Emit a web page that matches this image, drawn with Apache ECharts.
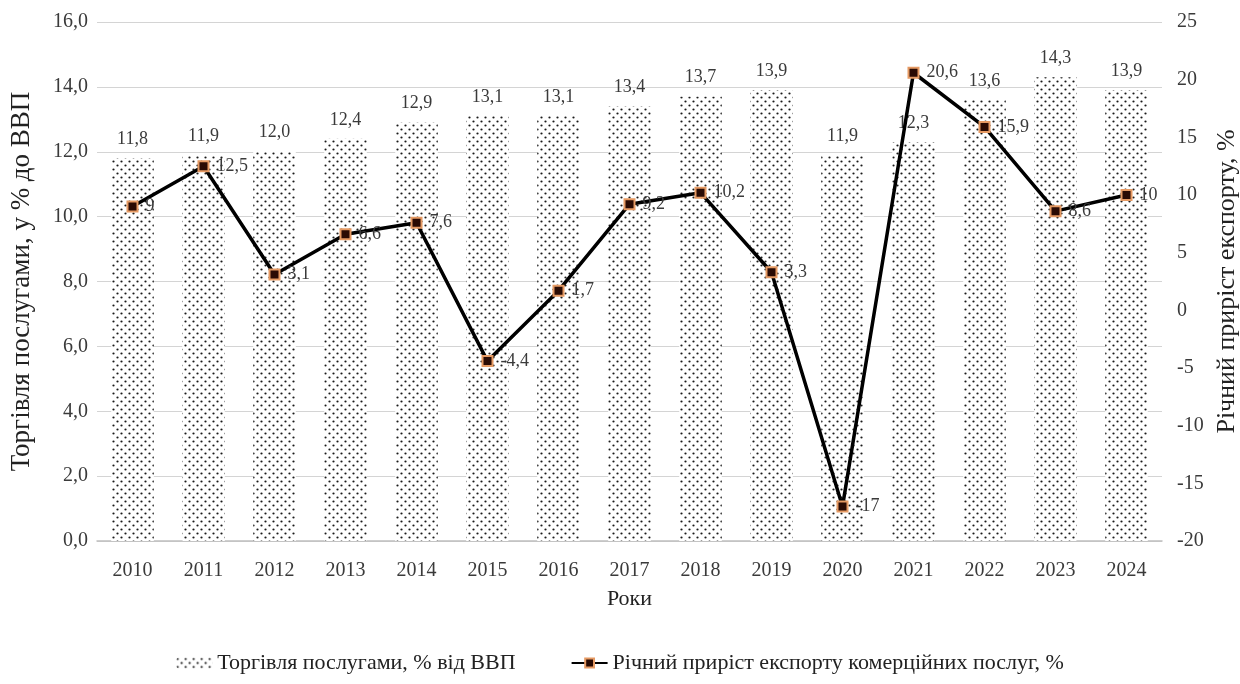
<!DOCTYPE html>
<html>
<head>
<meta charset="utf-8">
<script src="https://cdn.jsdelivr.net/npm/echarts@6/dist/echarts.min.js"></script>
<style>
html,body{margin:0;padding:0;background:#fff;}
#chart{width:1240px;height:684px;}
</style>
</head>
<body>
<div id="chart"></div>
<script>
// Years and values
const years = ['2010','2011','2012','2013','2014','2015','2016','2017','2018','2019','2020','2021','2022','2023','2024'];
const tradeShare = [11.8, 11.9, 12.0, 12.4, 12.9, 13.1, 13.1, 13.4, 13.7, 13.9, 11.9, 12.3, 13.6, 14.3, 13.9];
const exportGrowth = [9, 12.5, 3.1, 6.6, 7.6, -4.4, 1.7, 9.2, 10.2, 3.3, -17, 20.6, 15.9, 8.6, 10];

const seriesNames = ['Торгівля послугами, % від ВВП', 'Річний приріст експорту комерційних послуг, %'];

// Dotted fill for the bars
function dotPattern() {
  const c = document.createElement('canvas');
  c.width = 8; c.height = 8;
  const g = c.getContext('2d');
  g.fillStyle = '#ffffff';
  g.fillRect(0, 0, 8, 8);
  g.fillStyle = '#1a1a1a';
  g.beginPath(); g.arc(1.5, 1.5, 1.1, 0, Math.PI * 2); g.fill();
  g.beginPath(); g.arc(5.5, 5.5, 1.1, 0, Math.PI * 2); g.fill();
  return c;
}

const comma = v => String(v).replace('.', ',');
const font = 'Liberation Serif, Times New Roman, serif';
const txt = '#3a3a3a';

const chart = echarts.init(document.getElementById('chart'));
chart.setOption({
  animation: false,
  textStyle: { fontFamily: font },
  grid: { left: 97, right: 78, top: 22, bottom: 143, outerBoundsMode: 'none', containLabel: false },
  legend: {
    bottom: 5,
    left: 'center',
    itemGap: 55,
    itemWidth: 36,
    itemHeight: 11,
    textStyle: { fontFamily: font, fontSize: 22, color: '#222' },
    data: seriesNames
  },
  xAxis: {
    type: 'category',
    data: years,
    name: 'Роки',
    nameLocation: 'middle',
    nameGap: 47,
    nameTextStyle: { fontFamily: font, fontSize: 22, color: '#222' },
    axisLine: { lineStyle: { color: '#bfbfbf', width: 1.5 } },
    axisTick: { show: false },
    axisLabel: { fontFamily: font, fontSize: 20, color: txt, margin: 20 }
  },
  yAxis: [
    {
      type: 'value',
      min: 0, max: 16, interval: 2,
      name: 'Торгівля послугами, у % до ВВП',
      nameLocation: 'middle',
      nameGap: 62,
      nameTextStyle: { fontFamily: font, fontSize: 27, color: '#222' },
      axisLine: { show: false },
      axisTick: { show: false },
      axisLabel: { fontFamily: font, fontSize: 20, color: txt, margin: 9, formatter: v => v.toFixed(1).replace('.', ',') },
      splitLine: { lineStyle: { color: '#d4d4d4', width: 1.2 } }
    },
    {
      type: 'value',
      min: -20, max: 25, interval: 5,
      name: 'Річний приріст експорту, %',
      nameLocation: 'middle',
      nameGap: 52,
      nameRotate: 90,
      nameTextStyle: { fontFamily: font, fontSize: 26, color: '#222' },
      axisLine: { show: false },
      axisTick: { show: false },
      axisLabel: { fontFamily: font, fontSize: 20, color: txt, margin: 15 },
      splitLine: { show: false }
    }
  ],
  series: [
    {
      name: seriesNames[0],
      type: 'bar',
      yAxisIndex: 0,
      data: tradeShare,
      barWidth: '60%',
      itemStyle: { color: { image: dotPattern(), repeat: 'repeat' } },
      label: {
        show: true, position: 'top', distance: 10,
        fontFamily: font, fontSize: 18, color: txt,
        formatter: p => p.value.toFixed(1).replace('.', ',')
      },
      z: 1
    },
    {
      name: seriesNames[1],
      type: 'line',
      yAxisIndex: 1,
      data: exportGrowth,
      symbol: 'rect',
      symbolSize: 10,
      lineStyle: { color: '#000', width: 3.5 },
      itemStyle: { color: '#2a0b04', borderColor: '#e69a63', borderWidth: 2 },
      label: {
        show: true, position: 'right', distance: 7,
        fontFamily: font, fontSize: 18, color: txt,
        formatter: p => comma(p.value)
      },
      z: 3
    }
  ]
});
</script>
</body>
</html>
